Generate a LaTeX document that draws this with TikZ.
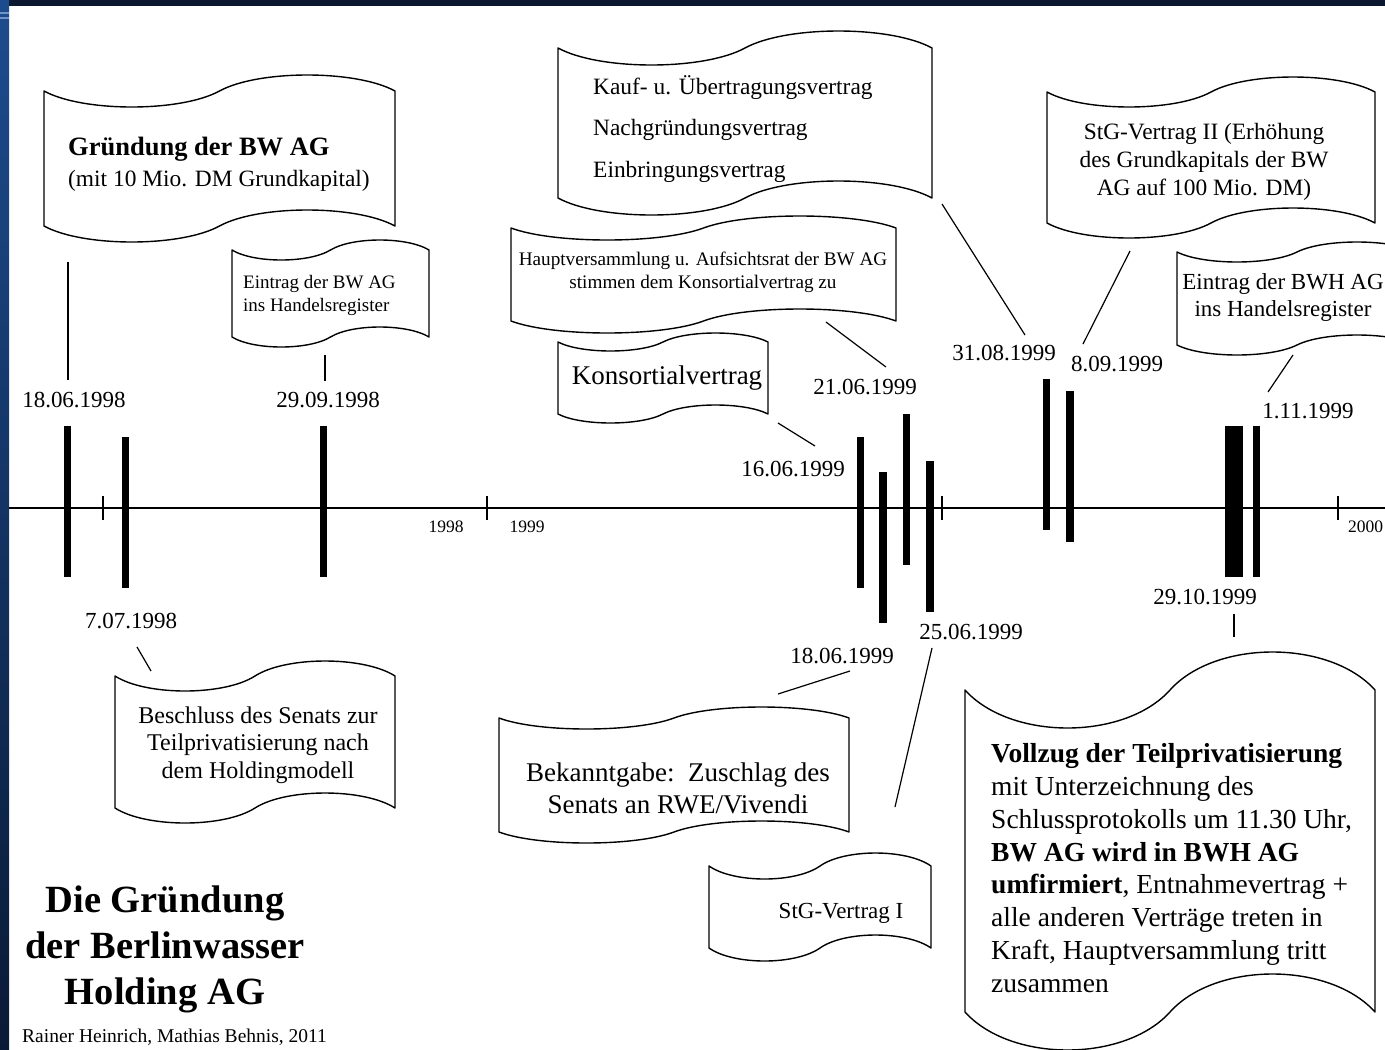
\documentclass[tikz,border=0pt]{standalone}
\usepackage{fontspec}
\setmainfont{Liberation Serif}
\newcommand\setfs[2]{\fontsize{#1}{#2}\selectfont}
\definecolor{topdark}{HTML}{0B1830}
\definecolor{bandtop}{HTML}{1D4C8E}
\definecolor{bandbot}{HTML}{0A1A36}
\definecolor{bandlight}{HTML}{6F95C8}
% flag-shaped box: x0, y0 (top-left corner), width, height, wave amplitude
\newcommand\flagbox[5]{%
  \pgfmathsetmacro\fx{#1}\pgfmathsetmacro\fy{#2}%
  \pgfmathsetmacro\fxm{#1+#3/2}\pgfmathsetmacro\fxr{#1+#3}%
  \pgfmathsetmacro\fc{#3/9}\pgfmathsetmacro\fk{#5*4/3}\pgfmathsetmacro\fyb{#2+#4}%
  \draw[flagline] (\fx,\fy) .. controls +(\fc,\fk) and +(-\fc,\fk) .. (\fxm,\fy)
     .. controls +(\fc,-\fk) and +(-\fc,-\fk) .. (\fxr,\fy) -- (\fxr,\fyb)
     .. controls +(-\fc,-\fk) and +(\fc,-\fk) .. (\fxm,\fyb)
     .. controls +(-\fc,\fk) and +(\fc,\fk) .. (\fx,\fyb) -- cycle;}
\begin{document}
\begin{tikzpicture}[x=1pt,y=-1pt,
  flagline/.style={draw=black,line width=1.4pt,line join=round,fill=white},
  conn/.style={draw=black,line width=1.2pt},
  axisline/.style={draw=black,line width=1.5pt},
  datelbl/.style={font=\setfs{23}{27},inner sep=0pt},
  yearlbl/.style={font=\setfs{17.5}{21},inner sep=0pt},
  boxtext/.style={inner sep=0pt},
  bar/.style={fill=black}]
\useasboundingbox (0,0) rectangle (1385,1050);
% background and frame bands
\fill[white] (0,0) rectangle (1385,1050);
\fill[topdark] (0,0) rectangle (1385,6);
\shade[top color=bandtop,bottom color=bandbot] (0,0) rectangle (9,1050);
\fill[bandlight] (0,12) rectangle (9,13.5);
\fill[bandlight] (0,17) rectangle (9,18.5);

% axis and ticks
\draw[axisline] (9,508) -- (1385,508);
\foreach \tx in {103,487,942,1338} \draw[line width=1.3pt] (\tx,496) -- (\tx,520);
\node[yearlbl] (y1998) at (446,527) {1998};
\node[yearlbl] (y1999) at (527,527) {1999};
\node[yearlbl,anchor=west] (y2000) at (1348,527) {2000};

% event bars
\fill[bar] (63.5,426) rectangle (71,577);
\fill[bar] (121.7,437) rectangle (129.3,588);
\fill[bar] (320,426) rectangle (327.3,577);
\fill[bar] (856.7,437) rectangle (864,588);
\fill[bar] (879.3,472) rectangle (887,623);
\fill[bar] (903,414) rectangle (910.3,565);
\fill[bar] (926.3,461) rectangle (933.7,612);
\fill[bar] (1043,379) rectangle (1050.3,530);
\fill[bar] (1066.3,391) rectangle (1073.7,542);
\fill[bar] (1225.3,426) rectangle (1242.7,577);
\fill[bar] (1252.7,426) rectangle (1260,577);

% date labels
\node[datelbl] (d1) at (74,400) {18.06.1998};
\node[datelbl] (d2) at (328,400) {29.09.1998};
\node[datelbl] (d3) at (131,621) {7.07.1998};
\node[datelbl] (d4) at (793,469) {16.06.1999};
\node[datelbl] (d5) at (865,387) {21.06.1999};
\node[datelbl] (d6) at (842,656) {18.06.1999};
\node[datelbl] (d7) at (971,632) {25.06.1999};
\node[datelbl] (d8) at (1004,353) {31.08.1999};
\node[datelbl] (d9) at (1117,364) {8.09.1999};
\node[datelbl] (d10) at (1205,597) {29.10.1999};
\node[datelbl] (d11) at (1308,411) {1.11.1999};

% boxes
\flagbox{44}{91}{351}{135}{16}
\node[boxtext,anchor=west,align=left,font=\setfs{23.4}{31}] (gruendung) at (68,164)
  {{\bfseries\setfs{26.5}{31}Gründung der BW AG}\\(mit 10 Mio. DM Grundkapital)};

\flagbox{232}{250}{197}{87}{10}
\node[boxtext,anchor=west,align=left,font=\setfs{19}{23}] (eintragbw) at (243,295)
  {Eintrag der BW AG\\ins Handelsregister};

\flagbox{558}{48}{374}{150}{17}
\node[boxtext,anchor=west,align=left,font=\setfs{23.4}{41.5}] (kauf) at (593,129)
  {Kauf- u. Übertragungsvertrag\\Nachgründungsvertrag\\Einbringungsvertrag};

\flagbox{511}{228}{385}{93}{12}
\node[boxtext,align=center,font=\setfs{19.2}{23}] (hauptvers) at (703,272)
  {Hauptversammlung u. Aufsichtsrat der BW AG\\stimmen dem Konsortialvertrag zu};

\flagbox{558}{342}{210}{72}{9}
\node[boxtext,font=\setfs{27}{31}] (konsort) at (667,378) {Konsortialvertrag};

\flagbox{1047}{92}{328}{131}{15}
\node[boxtext,align=center,font=\setfs{23.4}{28}] (stg2) at (1204,162)
  {StG-Vertrag II (Erhöhung\\des Grundkapitals der BW\\AG auf 100 Mio. DM)};

\flagbox{1177}{252}{240}{93}{10}
\node[boxtext,align=center,font=\setfs{23}{27}] (eintragbwh) at (1283,297)
  {Eintrag der BWH AG\\ins Handelsregister};

\flagbox{115}{676}{280}{132}{15}
\node[boxtext,align=center,font=\setfs{24}{27.5}] (beschluss) at (258,745)
  {Beschluss des Senats zur\\Teilprivatisierung nach\\dem Holdingmodell};

\flagbox{499}{718}{350}{114}{11}
\node[boxtext,align=center,font=\setfs{27}{32}] (bekannt) at (678,788)
  {Bekanntgabe:\ \ Zuschlag des\\Senats an RWE/Vivendi};

\flagbox{709}{866}{222}{82}{13}
\node[boxtext,font=\setfs{23}{27}] (stg1) at (841,913) {StG-Vertrag I};

\flagbox{965}{690}{410}{322}{38}
\node[boxtext,anchor=west,align=left,font=\setfs{27.5}{32.8}] (vollzug) at (991,868)
  {\textbf{Vollzug der Teilprivatisierung}\\mit Unterzeichnung des\\Schlussprotokolls um 11.30 Uhr,\\\textbf{BW AG wird in BWH AG}\\\textbf{umfirmiert}, Entnahmevertrag +\\alle anderen Verträge treten in\\Kraft, Hauptversammlung tritt\\zusammen};

% title and credits
\node[boxtext,align=center,font=\bfseries\setfs{38.5}{46}] (title) at (165,949)
  {Die Gründung\\der Berlinwasser\\Holding AG};
\node[boxtext,anchor=west,font=\setfs{19.5}{23}] (credits) at (22,1037)
  {Rainer Heinrich, Mathias Behnis, 2011};

% connectors
\coordinate (c1a) at (68,262);   \coordinate (c1b) at (68,380);
\coordinate (c2a) at (325,355);  \coordinate (c2b) at (325,381);
\coordinate (c3a) at (137,647);  \coordinate (c3b) at (151,671);
\coordinate (c4a) at (778,423);  \coordinate (c4b) at (815,446);
\coordinate (c5a) at (826,322);  \coordinate (c5b) at (886,367);
\coordinate (c6a) at (942,204);  \coordinate (c6b) at (1025,335);
\coordinate (c7a) at (1130,251); \coordinate (c7b) at (1083,344);
\coordinate (c8a) at (1293,355); \coordinate (c8b) at (1268,392);
\coordinate (c9a) at (850,671);  \coordinate (c9b) at (778,694);
\coordinate (c10a) at (932,648); \coordinate (c10b) at (895,807);
\coordinate (c11a) at (1234,614); \coordinate (c11b) at (1234,637);
\foreach \i in {1,...,11} \draw[conn] (c\i a) -- (c\i b);
\end{tikzpicture}
\end{document}
